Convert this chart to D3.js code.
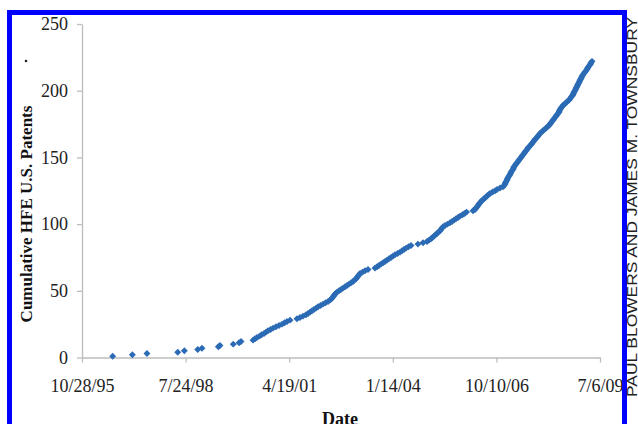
<!DOCTYPE html>
<html>
<head>
<meta charset="utf-8">
<script src="https://cdn.jsdelivr.net/npm/d3@7"></script>
<style>
    body { margin: 0; background: #fff; }
    svg { display: block; }
</style>
</head>
<body>
<div id="chart"></div>
<script>
const svgWidth = 638;
const svgHeight = 424;

// Excel-style date serials (days since 12/30/1899) of each granted patent, in order
const grantSerials = [
    35296, 35486, 35627, 35924, 35988, 36117, 36158, 36316, 36332, 36460,
    36516, 36535, 36651, 36670, 36689, 36713, 36733, 36757, 36776, 36795,
    36820, 36844, 36873, 36902, 36931, 36955, 36979, 37008, 37075, 37104,
    37133, 37162, 37182, 37201, 37220, 37239, 37259, 37278, 37302, 37326,
    37351, 37375, 37394, 37408, 37418, 37428, 37437, 37447, 37462, 37481,
    37500, 37519, 37539, 37558, 37577, 37597, 37616, 37630, 37645, 37655,
    37664, 37674, 37684, 37708, 37732, 37761, 37828, 37848, 37867, 37886,
    37906, 37925, 37944, 37963, 37983, 38002, 38021, 38046, 38070, 38089,
    38108, 38128, 38152, 38176, 38243, 38292, 38330, 38350, 38369, 38383,
    38398, 38412, 38427, 38441, 38456, 38465, 38475, 38485, 38504, 38528,
    38552, 38572, 38591, 38610, 38630, 38649, 38673, 38692, 38712, 38774,
    38794, 38803, 38813, 38823, 38832, 38842, 38852, 38866, 38881, 38895,
    38909, 38924, 38938, 38963, 38987, 39006, 39035, 39064, 39074, 39083,
    39088, 39093, 39103, 39107, 39112, 39122, 39131, 39136, 39141, 39151,
    39160, 39165, 39170, 39180, 39189, 39199, 39209, 39218, 39228, 39238,
    39247, 39257, 39267, 39276, 39286, 39296, 39305, 39315, 39329, 39339,
    39349, 39358, 39368, 39378, 39392, 39402, 39411, 39421, 39436, 39450,
    39465, 39479, 39494, 39508, 39518, 39527, 39537, 39547, 39556, 39566,
    39576, 39585, 39595, 39605, 39609, 39614, 39624, 39633, 39643, 39658,
    39672, 39687, 39701, 39711, 39720, 39730, 39740, 39744, 39749, 39759,
    39764, 39769, 39778, 39783, 39788, 39798, 39802, 39807, 39817, 39822,
    39827, 39836, 39846, 39855, 39865, 39875, 39880, 39889, 39899, 39909,
    39913, 39923
];

const xTickSerials = [35000, 36000, 37000, 38000, 39000, 40000];
const xTickLabels = ['10/28/95', '7/24/98', '4/19/01', '1/14/04', '10/10/06', '7/6/09'];
const yTickValues = [0, 50, 100, 150, 200, 250];

const yTitle = 'Cumulative HFE U.S. Patents';
const xTitle = 'Date';
const creditText = 'PAUL BLOWERS AND JAMES M. TOWNSBURY';

const points = grantSerials.map((s, i) => ({ serial: s, count: i + 1 }));

const xScale = d3.scaleLinear()
    .domain([35000, 40000])
    .range([82, 600]);

const yScale = d3.scaleLinear()
    .domain([0, 250])
    .range([357.5, 24]);

const svg = d3.select('#chart')
    .append('svg')
    .attr('width', svgWidth)
    .attr('height', svgHeight);

svg.append('rect')
    .attr('width', svgWidth)
    .attr('height', svgHeight)
    .attr('fill', '#fff');

// axes
const yAxis = svg.append('g')
    .attr('transform', `translate(${xScale.range()[0]},0)`)
    .call(d3.axisLeft(yScale)
        .tickValues(yTickValues)
        .tickSize(5)
        .tickSizeOuter(0)
        .tickPadding(9));

const xAxis = svg.append('g')
    .attr('transform', `translate(0,${yScale(0)})`)
    .call(d3.axisBottom(xScale)
        .tickValues(xTickSerials)
        .tickFormat((d, i) => xTickLabels[i])
        .tickSize(5)
        .tickSizeOuter(0)
        .tickPadding(17));

[xAxis, yAxis].forEach(ax => {
    ax.select('.domain').attr('stroke', '#bdbdbd').attr('stroke-width', 1.3);
    ax.selectAll('.tick line').attr('stroke', '#bdbdbd').attr('stroke-width', 1.3);
    ax.selectAll('.tick text')
        .attr('fill', '#222')
        .style('font-family', '"Liberation Serif", "Times New Roman", serif')
        .style('font-size', '18px');
});

// data points (diamonds)
svg.append('g')
    .selectAll('path')
    .data(points)
    .enter()
    .append('path')
    .attr('d', d3.symbol(d3.symbolSquare, 24))
    .attr('transform', d => `translate(${xScale(d.serial)},${yScale(d.count)}) rotate(45)`)
    .attr('fill', '#2b6ab4');

// titles
svg.append('text')
    .attr('transform', 'translate(32,214) rotate(-90)')
    .attr('text-anchor', 'middle')
    .style('font-family', '"Liberation Serif", "Times New Roman", serif')
    .style('font-size', '17px')
    .style('font-weight', 'bold')
    .attr('fill', '#111')
    .text(yTitle);

svg.append('circle')
    .attr('cx', 26)
    .attr('cy', 61)
    .attr('r', 1.3)
    .attr('fill', '#222');

svg.append('text')
    .attr('x', 340)
    .attr('y', 425)
    .attr('text-anchor', 'middle')
    .style('font-family', '"Liberation Serif", "Times New Roman", serif')
    .style('font-size', '18px')
    .style('font-weight', 'bold')
    .attr('fill', '#111')
    .text(xTitle);

// blue frame, drawn over the clipped tick label
svg.append('rect')
    .attr('x', 9.5)
    .attr('y', 12.5)
    .attr('width', 615)
    .attr('height', 500)
    .attr('fill', 'none')
    .attr('stroke', '#0000ff')
    .attr('stroke-width', 5);

// photo credit along right edge
svg.append('text')
    .attr('transform', 'translate(637,397) rotate(-90)')
    .attr('text-anchor', 'start')
    .attr('textLength', 380)
    .attr('lengthAdjust', 'spacingAndGlyphs')
    .style('font-family', '"Liberation Sans", Arial, sans-serif')
    .style('font-size', '14px')
    .attr('fill', '#222')
    .text(creditText);
</script>
</body>
</html>
